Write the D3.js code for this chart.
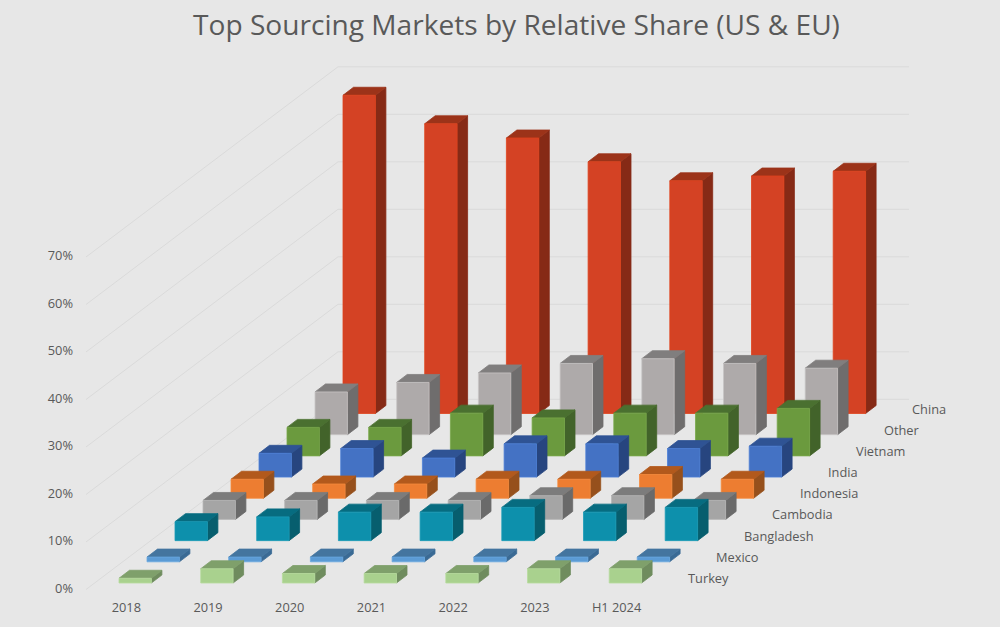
<!DOCTYPE html>
<html>
<head>
<meta charset="utf-8">
<title>Top Sourcing Markets by Relative Share (US & EU)</title>
<script src="https://cdn.jsdelivr.net/npm/d3@7/dist/d3.min.js"></script>
<style>
  html, body { margin: 0; padding: 0; background: #e7e7e7; }
  svg { display: block; font-family: "Open Sans", sans-serif; }
  .tick text { fill: #595959; font-size: 12.8px; font-family: "Open Sans", sans-serif; }
</style>
</head>
<body>
<svg id="chart" width="1000" height="627"></svg>
<script>
// Shares in percent, one list per sourcing market, back row first.
const years = ["2018", "2019", "2020", "2021", "2022", "2023", "H1 2024"];
const markets = ["China", "Other", "Vietnam", "India", "Indonesia", "Cambodia", "Bangladesh", "Mexico", "Turkey"];
const china = [67, 61, 58, 53, 49, 50, 51];
const other = [9, 11, 13, 15, 16, 15, 14];
const vietnam = [6, 6, 9, 8, 9, 9, 10];
const india = [5, 6, 4, 7, 7, 6, 6.5];
const indonesia = [4, 3, 3, 4, 4, 5, 4];
const cambodia = [4, 4, 4, 4, 5, 5, 4];
const bangladesh = [4, 5, 6, 6, 7, 6, 7];
const mexico = [1, 1, 1, 1, 1, 1, 1];
const turkey = [1, 3, 2, 2, 2, 3, 3];
const valueTicks = [0, 10, 20, 30, 40, 50, 60, 70];

const rows = [china, other, vietnam, india, indonesia, cambodia, bangladesh, mexico, turkey];

// face colours per row: front, side, top
const faceColors = [
  ["#d44224", "#862a16", "#9c3319"],
  ["#aeaaaa", "#6f6d6d", "#807e7e"],
  ["#6b9a3e", "#42632a", "#4a7030"],
  ["#4472c4", "#27457f", "#2f5394"],
  ["#ed7d31", "#96501c", "#b2591c"],
  ["#a5a5a5", "#6a6a6a", "#7c7c7c"],
  ["#0d90ac", "#075e6e", "#076c80"],
  ["#5b9bd5", "#3a6a94", "#44759f"],
  ["#a9d18e", "#6f8c5e", "#7fa06b"]
];
const edgeColors = ["#e0431c", "#c8c5c5", "#78a84a", "#4d80d8", "#f58a3c", "#b8b8b8", "#1a9cb8", "#6aa8e0", "#b8dc9e"];

const svg = d3.select("#chart");

// Oblique projection: years run along x, markets recede up and to the right.
const yearScale = d3.scaleBand().domain(years).range([119, 119 + 81.7 * years.length]).paddingInner(0).paddingOuter(0);
const depthX = d3.scalePoint().domain(markets.slice().reverse()).range([0, 224]);
const depthY = d3.scalePoint().domain(markets.slice().reverse()).range([0, 169.5]);
const valueLen = d3.scaleLinear().domain([0, 70]).range([0, 332.5]);

const barWidth = 32.4;
const barDx = 10.5;
const barDy = 8;
const floorY = 583;

// Walls: gridlines run along the side wall and then across the back wall.
const grid = svg.append("g").attr("fill", "none").attr("stroke", "#dadada").attr("stroke-width", 1);
const wallFront = { x: 86, y: 589.5 };
const wallBack = { x: 338, y: 399.3 };
const wallRight = 909;
valueTicks.forEach(v => {
  grid.append("polyline").attr("points", [
    [wallFront.x, wallFront.y - valueLen(v)],
    [wallBack.x, wallBack.y - valueLen(v)],
    [wallRight, wallBack.y - valueLen(v)]
  ].map(p => p.join(",")).join(" "));
});

// Value axis sits beside the front edge of the side wall.
const valueAxisScale = d3.scaleLinear().domain([0, 70]).range([588, 255.5]);
svg.append("g")
  .attr("transform", "translate(73,0)")
  .call(d3.axisLeft(valueAxisScale).tickValues(valueTicks).tickSize(0).tickPadding(0).tickFormat(d => d + "%"))
  .call(g => g.select(".domain").remove());

// Year labels along the front of the floor.
svg.append("g")
  .attr("transform", "translate(-33.5,602.5)")
  .call(d3.axisBottom(yearScale).tickSize(0).tickPadding(0))
  .call(g => g.select(".domain").remove());

// Market labels step back along the right of the floor.
const marketLabels = svg.append("g").attr("fill", "#595959").style("font-size", "12.8px");
markets.forEach(m => {
  marketLabels.append("text")
    .attr("x", 688 + depthX(m))
    .attr("y", 583 - depthY(m))
    .text(m);
});

// Bars, painted from the back row forward and left to right.
const barsLayer = svg.append("g");
markets.forEach((m, r) => {
  const group = barsLayer.append("g").attr("class", "row");
  rows[r].forEach((value, c) => {
    const x0 = yearScale(years[c]) + depthX(m);
    const base = floorY - depthY(m);
    const top = base - valueLen(value);
    const [front, side, lid] = faceColors[r];
    const poly = (pts, fill, stroke) => group.append("polygon")
      .attr("points", pts.map(p => p.join(",")).join(" "))
      .attr("fill", fill)
      .attr("stroke", stroke)
      .attr("stroke-width", 0.8)
      .attr("stroke-linejoin", "round");
    poly([[x0 + barWidth, top], [x0 + barWidth + barDx, top - barDy], [x0 + barWidth + barDx, base - barDy], [x0 + barWidth, base]], side, side);
    poly([[x0, top], [x0 + barDx, top - barDy], [x0 + barWidth + barDx, top - barDy], [x0 + barWidth, top]], lid, lid);
    poly([[x0, top], [x0 + barWidth, top], [x0 + barWidth, base], [x0, base]], front, edgeColors[r]);
  });
});

// Chart heading.
svg.append("text")
  .attr("x", 516.5)
  .attr("y", 35)
  .attr("text-anchor", "middle")
  .attr("fill", "#595959")
  .style("font-size", "28.1px")
  .text("Top Sourcing Markets by Relative Share (US & EU)");
</script>
</body>
</html>
